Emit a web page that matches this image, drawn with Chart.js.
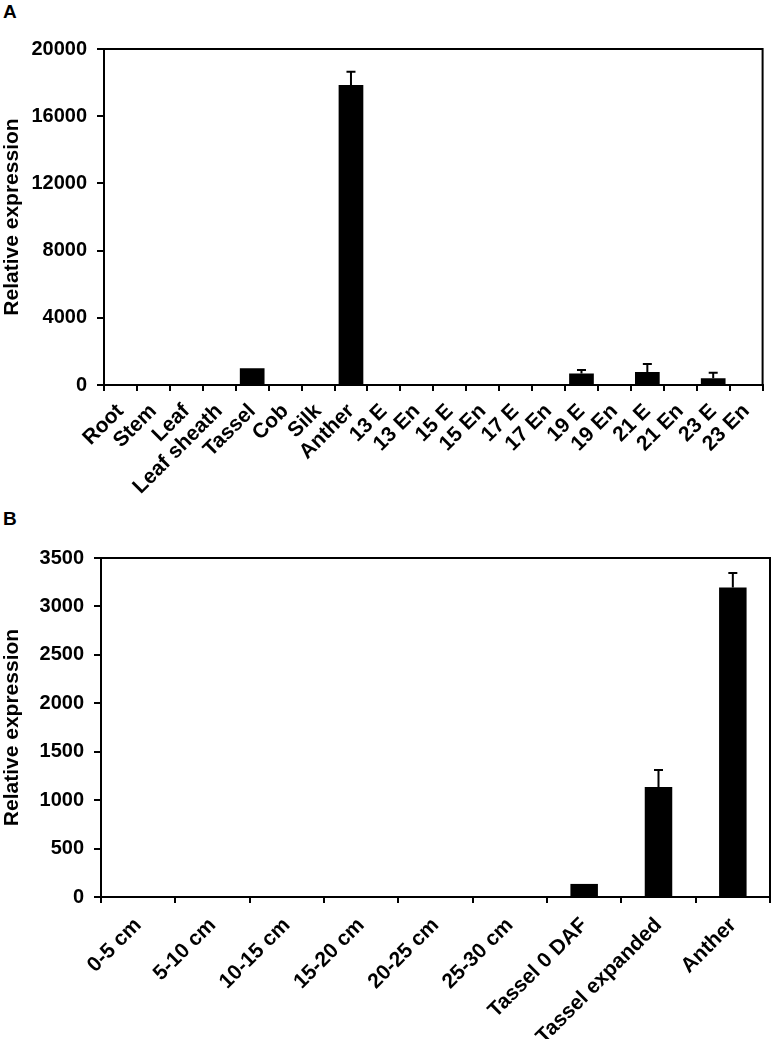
<!DOCTYPE html>
<html>
<head>
<meta charset="utf-8">
<script src="https://cdn.jsdelivr.net/npm/chart.js@4.4.1/dist/chart.umd.min.js"></script>
<style>
  body { margin: 0; background: #fff; width: 772px; height: 1039px; position: relative; overflow: hidden; }
  .panel { position: absolute; left: 0; width: 772px; }
  .tag { position: absolute; left: 3px; font: bold 19px "Liberation Sans", Arial, sans-serif; color: #000; line-height: 19px; }
</style>
</head>
<body>
<div class="tag" style="top:2px">A</div>
<div class="tag" style="top:509px">B</div>
<div class="panel" style="top:0;height:505px"><canvas id="chartA"></canvas></div>
<div class="panel" style="top:500px;height:539px"><canvas id="chartB"></canvas></div>
<script>
// Panel A - tissues
const tissueLabels = ['Root', 'Stem', 'Leaf', 'Leaf sheath', 'Tassel', 'Cob', 'Silk', 'Anther',
    '13 E', '13 En', '15 E', '15 En', '17 E', '17 En', '19 E', '19 En', '21 E', '21 En', '23 E', '23 En'];
const tissueValues = [10, 15, 10, 10, 990, 10, 10, 17850, 60, 40, 30, 20, 50, 20, 690, 10, 780, 10, 400, 20];
const tissueErrors = [5, 5, 5, 5, 30, 5, 5, 800, 10, 10, 5, 5, 10, 5, 200, 5, 470, 5, 330, 5];
const tissueTicks = [0, 4000, 8000, 12000, 16000, 20000];

// Panel B - developmental stages
const stageLabels = ['0-5 cm', '5-10 cm', '10-15 cm', '15-20 cm', '20-25 cm', '25-30 cm',
    'Tassel 0 DAF', 'Tassel expanded', 'Anther'];
const stageValues = [5, 3, 8, 10, 6, 5, 135, 1135, 3195];
const stageErrors = [2, 2, 2, 2, 2, 2, 15, 175, 150];
const stageTicks = [0, 500, 1000, 1500, 2000, 2500, 3000, 3500];

const FONT = "'Liberation Sans', Arial, sans-serif";

// draws the upper half of the error bar (T shape) and the box round the plot
const errorBars = {
    id: 'errorBars',
    afterDatasetsDraw(chart, args, opts) {
        const ctx = chart.ctx;
        const meta = chart.getDatasetMeta(0);
        const y = chart.scales.y;
        ctx.save();
        ctx.strokeStyle = '#000';
        ctx.lineWidth = 2;
        meta.data.forEach((bar, i) => {
            const v = chart.data.datasets[0].data[i];
            const top = y.getPixelForValue(v + opts.errors[i]);
            const base = y.getPixelForValue(v);
            if (base - top < 1.5) return;
            ctx.beginPath();
            ctx.moveTo(bar.x, base);
            ctx.lineTo(bar.x, top);
            ctx.moveTo(bar.x - 4.5, top);
            ctx.lineTo(bar.x + 4.5, top);
            ctx.stroke();
        });
        const a = chart.chartArea;
        ctx.beginPath();
        ctx.moveTo(a.left, a.top);
        ctx.lineTo(a.right, a.top);
        ctx.lineTo(a.right, a.bottom);
        ctx.stroke();
        ctx.restore();
    }
};

function makeChart(id, labels, values, errors, ticks, cfg) {
    return new Chart(document.getElementById(id), {
        type: 'bar',
        data: {
            labels: labels,
            datasets: [{
                data: values,
                backgroundColor: '#000',
                borderWidth: 0,
                barPercentage: cfg.barPct,
                categoryPercentage: 1
            }]
        },
        options: {
            responsive: true,
            maintainAspectRatio: false,
            animation: false,
            layout: { padding: { top: cfg.top, right: 2, left: 0, bottom: 0 } },
            plugins: {
                legend: { display: false },
                tooltip: { enabled: false },
                errorBars: { errors: errors }
            },
            scales: {
                x: {
                    offset: true,
                    grid: { display: true, offset: true, drawOnChartArea: false, drawTicks: true, tickLength: 6, color: '#000', lineWidth: 2 },
                    border: { display: true, color: '#000', width: 2 },
                    ticks: {
                        color: '#000', font: { family: FONT, size: cfg.xFont, weight: 'bold' },
                        maxRotation: 45, minRotation: 45, autoSkip: false, padding: cfg.xPad
                    },
                    afterFit(s) { s.height = cfg.xHeight; }
                },
                y: {
                    min: ticks[0],
                    max: ticks[ticks.length - 1],
                    afterBuildTicks(s) { s.ticks = ticks.map(v => ({ value: v })); },
                    grid: { display: true, drawOnChartArea: false, drawTicks: true, tickLength: 7, color: '#000', lineWidth: 2 },
                    border: { display: true, color: '#000', width: 2 },
                    ticks: {
                        color: '#000', font: { family: FONT, size: 20, weight: 'bold' }, padding: 10,
                        callback: v => String(v)
                    },
                    title: {
                        display: true, text: 'Relative expression', color: '#000',
                        font: { family: FONT, size: 21, weight: 'bold' }, padding: { top: 0, bottom: 0 }
                    },
                    afterFit(s) { s.width = cfg.yWidth; }
                }
            }
        },
        plugins: [errorBars]
    });
}

makeChart('chartA', tissueLabels, tissueValues, tissueErrors, tissueTicks,
    { barPct: 0.75, top: 49, xHeight: 120, yWidth: 104, xFont: 21, xPad: 8 });
makeChart('chartB', stageLabels, stageValues, stageErrors, stageTicks,
    { barPct: 0.37, top: 58, xHeight: 142, yWidth: 101, xFont: 21, xPad: 10 });
</script>
</body>
</html>
